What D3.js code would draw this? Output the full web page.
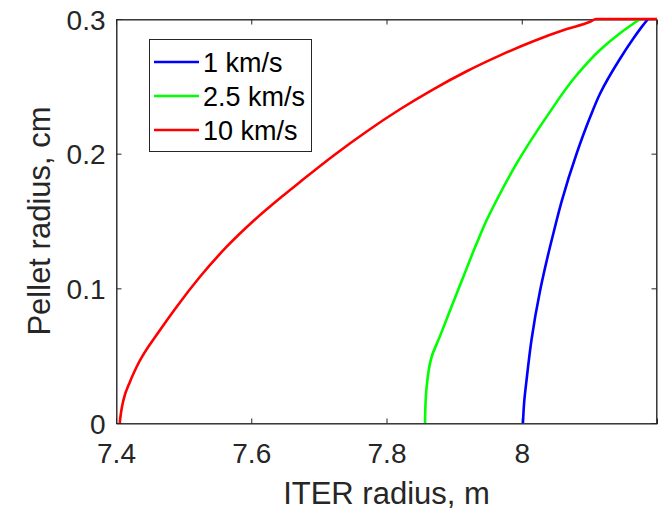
<!DOCTYPE html>
<html>
<head>
<meta charset="utf-8">
<script src="https://cdn.jsdelivr.net/npm/d3@7"></script>
<style>
  html, body { margin: 0; padding: 0; background: #fff; }
  svg { display: block; font-family: "Liberation Sans", Arial, Helvetica, sans-serif; }
</style>
</head>
<body>
<svg id="chart" width="659" height="512"></svg>
<script>
// ---- data ----
const seriesNames = ["1 km/s", "2.5 km/s", "10 km/s"];
const seriesColors = ["#0000ff", "#00ff00", "#ff0000"];

const blueX = [8.0018, 8.0035, 8.0071, 8.0145, 8.027, 8.0418, 8.0517, 8.059, 8.0813, 8.101, 8.1157, 8.1453, 8.165, 8.178, 8.1867];
const blueY = [0, 0.015, 0.0319, 0.062, 0.098, 0.1309, 0.1507, 0.1645, 0.2003, 0.227, 0.2445, 0.2705, 0.2855, 0.2945, 0.3];

const greenX = [7.857, 7.8575, 7.8594, 7.8668, 7.8791, 7.8939, 7.9136, 7.9334, 7.9482, 7.963, 7.9925, 8.0369, 8.0813, 8.1157, 8.1453, 8.1749];
const greenY = [0, 0.012, 0.027, 0.0492, 0.0645, 0.0835, 0.1086, 0.1334, 0.1507, 0.1656, 0.1928, 0.2275, 0.2584, 0.277, 0.2894, 0.3];

const redX = [7.4055, 7.4075, 7.411, 7.4207, 7.4306, 7.4651, 7.4898, 7.5242, 7.5637, 7.6031, 7.645, 7.6721, 7.7214, 7.7707, 7.82, 7.8692, 7.9186, 7.9679, 8.0171, 8.0665, 8.101, 8.11, 8.2];
const redY = [0, 0.008, 0.017, 0.0307, 0.0418, 0.069, 0.0864, 0.1086, 0.1309, 0.15, 0.168, 0.179, 0.1985, 0.2165, 0.233, 0.2478, 0.2612, 0.273, 0.2835, 0.2925, 0.298, 0.3, 0.3];

const xTicks = [7.4, 7.6, 7.8, 8];
const yTicks = [0, 0.1, 0.2, 0.3];
const xLabel = "ITER radius, m";
const yLabel = "Pellet radius, cm";

// ---- chart ----
const svg = d3.select("#chart");
const L = 116, R = 657, T = 19, B = 423;
const x = d3.scaleLinear().domain([7.4, 8.2]).range([L, R]);
const y = d3.scaleLinear().domain([0, 0.3]).range([B, T]);
const axisColor = "#262626";

// box
svg.append("rect")
  .attr("x", L + 0.5).attr("y", T + 0.5)
  .attr("width", R - L - 1).attr("height", B - T)
  .attr("fill", "none").attr("stroke", axisColor).attr("stroke-width", 1).attr("stroke-opacity", 0.8);

// axes (inward ticks)
const fmt = d => d3.format("")(+d.toFixed(2));
const gx = svg.append("g").attr("transform", `translate(0,${B + 0.5})`)
  .call(d3.axisBottom(x).tickValues(xTicks).tickSize(-5).tickPadding(20).tickFormat(fmt));
const gxTop = svg.append("g").attr("transform", `translate(0,${T + 0.5})`)
  .call(d3.axisTop(x).tickValues(xTicks).tickSize(-5).tickFormat(""));
const gy = svg.append("g").attr("transform", `translate(${L + 0.5},0)`)
  .call(d3.axisLeft(y).tickValues(yTicks).tickSize(-5).tickPadding(11).tickFormat(fmt));
const gyR = svg.append("g").attr("transform", `translate(${R - 0.5},0)`)
  .call(d3.axisRight(y).tickValues(yTicks).tickSize(-5).tickFormat(""));

[gx, gxTop, gy, gyR].forEach(g => {
  g.select(".domain").attr("stroke", axisColor);
  g.selectAll(".tick line").attr("stroke", axisColor);
  g.selectAll(".tick text")
    .attr("fill", axisColor)
    .style("font-size", "28px")
    .style("font-family", "'Liberation Sans', Arial, sans-serif");
});
gx.selectAll(".tick text").attr("dy", "0.71em");
gy.selectAll(".tick text").attr("dy", "0.36em");

// axis labels
svg.append("text")
  .attr("x", (L + R) / 2).attr("y", 504)
  .attr("text-anchor", "middle").attr("fill", axisColor)
  .style("font-size", "31px").text(xLabel);
svg.append("text")
  .attr("transform", `translate(50,${(T + B) / 2}) rotate(-90)`)
  .attr("text-anchor", "middle").attr("fill", axisColor)
  .style("font-size", "31px").text(yLabel);

// lines
const lineX = d3.line().x(d => x(d[0])).y(d => y(d[1])).curve(d3.curveMonotoneX);
const lineY = d3.line().x(d => x(d[0])).y(d => y(d[1])).curve(d3.curveMonotoneY);
const series = [
  d3.zip(blueX, blueY),
  d3.zip(greenX, greenY),
  d3.zip(redX, redY)
];
series.forEach((pts, i) => {
  svg.append("path")
    .datum(pts)
    .attr("d", i < 2 ? lineY : lineX)
    .attr("fill", "none")
    .attr("stroke", seriesColors[i])
    .attr("stroke-width", 2.6)
    .attr("stroke-linejoin", "round");
});

// legend
const lg = svg.append("g");
lg.append("rect")
  .attr("x", 149.5).attr("y", 39.5).attr("width", 162).attr("height", 112)
  .attr("fill", "#fff").attr("stroke", axisColor).attr("stroke-width", 1);
const rowY = [62, 96, 130];
seriesNames.forEach((name, i) => {
  lg.append("line")
    .attr("x1", 154).attr("x2", 199).attr("y1", rowY[i]).attr("y2", rowY[i])
    .attr("stroke", seriesColors[i]).attr("stroke-width", 2.6);
  lg.append("text")
    .attr("x", 203).attr("y", rowY[i]).attr("dy", "0.36em")
    .attr("fill", "#000").style("font-size", "27px").text(name);
});
</script>
</body>
</html>
